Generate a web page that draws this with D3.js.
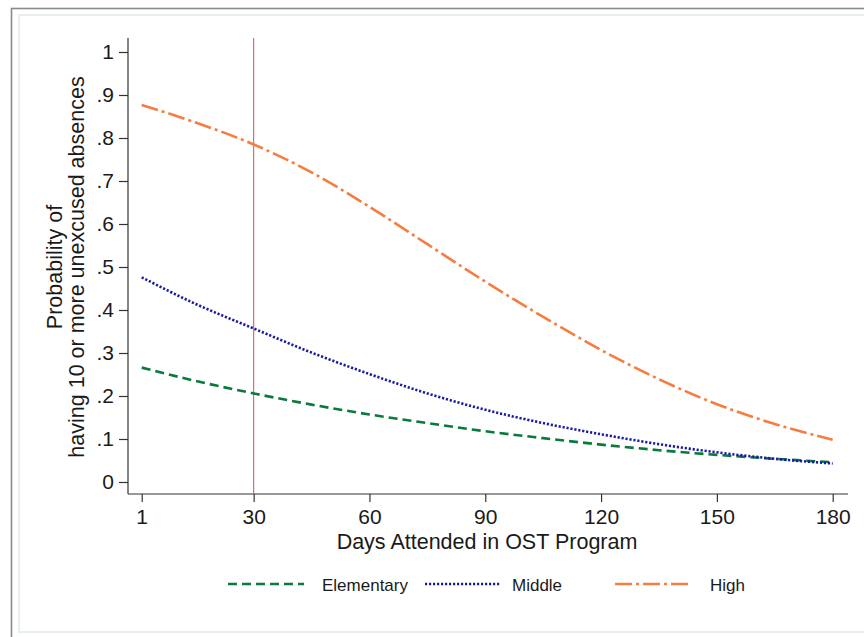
<!DOCTYPE html>
<html lang="en">
<head>
<meta charset="UTF-8">
<title>Probability of 10 or more unexcused absences</title>
<script src="https://cdnjs.cloudflare.com/ajax/libs/d3/7.8.5/d3.min.js"></script>
<style>
  body { margin: 0; background: #fff; }
  svg { display: block; font-family: "Liberation Sans", Arial, sans-serif; }
  text { fill: #1a1a1a; }
</style>
</head>
<body>
<svg id="chart" width="864" height="637"></svg>
<script>
// days attended (x values)
const days = [1, 15, 30, 45, 60, 75, 90, 105, 120, 135, 150, 165, 180];

// predicted probabilities per school level
const elementary = [.266, .235, .206, .180, .157, .137, .118, .102, .087, .074, .063, .054, .046];
const middle     = [.476, .414, .357, .301, .251, .206, .168, .137, .111, .088, .069, .054, .043];
const high       = [.877, .836, .785, .720, .640, .553, .466, .384, .307, .239, .181, .135, .098];

const xTicks = [1, 30, 60, 90, 120, 150, 180];
const yTicks = [0, .1, .2, .3, .4, .5, .6, .7, .8, .9, 1];
const yTickLabels = ["0", ".1", ".2", ".3", ".4", ".5", ".6", ".7", ".8", ".9", "1"];
const cutoff = 30;

const series = [
  { name: "Elementary", values: elementary, color: "#0a7a3c", dash: "9,5" },
  { name: "Middle", values: middle, color: "#1c1ca0", dash: "2.2,1.8" },
  { name: "High", values: high, color: "#f57d3f", dash: "17,4,3,4" }
];

const svg = d3.select("#chart");

// outer frames
svg.append("rect").attr("x", 11.5).attr("y", 8.5).attr("width", 900).attr("height", 700)
  .attr("fill", "none").attr("stroke", "#8a8a8a").attr("stroke-width", 1.6);
svg.append("rect").attr("x", 19).attr("y", 15).attr("width", 900).attr("height", 617)
  .attr("fill", "none").attr("stroke", "#e8eff2").attr("stroke-width", 2);

const x = d3.scaleLinear().domain([1, 180]).range([141.7, 832.7]);
const y = d3.scaleLinear().domain([0, 1]).range([482, 52]);

const axisColor = "#333";
const font = "'Liberation Sans', Arial, sans-serif";

// y axis
const yAxis = svg.append("g").attr("transform", "translate(128,0)")
  .call(d3.axisLeft(y).tickValues(yTicks).tickSize(9).tickPadding(5)
    .tickFormat((d, i) => yTickLabels[i]));
yAxis.select(".domain").remove();
yAxis.append("line").attr("x1", 0).attr("x2", 0).attr("y1", 38).attr("y2", 494)
  .attr("stroke", axisColor).attr("stroke-width", 1.2);

// x axis
const xAxis = svg.append("g").attr("transform", "translate(0,494)")
  .call(d3.axisBottom(x).tickValues(xTicks).tickSize(8).tickPadding(7));
xAxis.select(".domain").remove();
xAxis.append("line").attr("x1", 128).attr("x2", 848).attr("y1", 0).attr("y2", 0)
  .attr("stroke", axisColor).attr("stroke-width", 1.2);

svg.selectAll(".tick line").attr("stroke", axisColor).attr("stroke-width", 1.2);
svg.selectAll(".tick text").attr("fill", "#1a1a1a")
  .style("font-size", "21px").style("font-family", font);

// reference line at 30 days
svg.append("line").attr("x1", x(cutoff)).attr("x2", x(cutoff)).attr("y1", 38).attr("y2", 494)
  .attr("stroke", "#d65f62").attr("stroke-width", 1.1);

// curves
const line = d3.line().x((d, i) => x(days[i])).y(d => y(d)).curve(d3.curveMonotoneX);
series.forEach(s => {
  svg.append("path").datum(s.values).attr("d", line)
    .attr("fill", "none").attr("stroke", s.color).attr("stroke-width", 2.6)
    .attr("stroke-dasharray", s.dash);
});

// axis titles
svg.append("text").attr("x", 487).attr("y", 549).attr("text-anchor", "middle")
  .style("font-size", "21.5px").text("Days Attended in OST Program");

const yt = svg.append("text").attr("transform", "translate(0,267) rotate(-90)")
  .attr("text-anchor", "middle").style("font-size", "21.5px");
yt.append("tspan").attr("x", 0).attr("y", 62).text("Probability of");
yt.append("tspan").attr("x", 0).attr("y", 84).text("having 10 or more unexcused absences");

// legend
const legendX = [228, 425, 615];
const legend = svg.selectAll(".legend").data(series).join("g")
  .attr("class", "legend").attr("transform", (d, i) => `translate(${legendX[i]},584)`);
legend.append("line").attr("x1", 0).attr("x2", 76).attr("y1", 0).attr("y2", 0)
  .attr("stroke", d => d.color).attr("stroke-width", 2.6).attr("stroke-dasharray", d => d.dash);
legend.append("text").attr("x", (d, i) => [94, 87, 95][i]).attr("y", 6.5)
  .style("font-size", "17px").text(d => d.name);
</script>
</body>
</html>
